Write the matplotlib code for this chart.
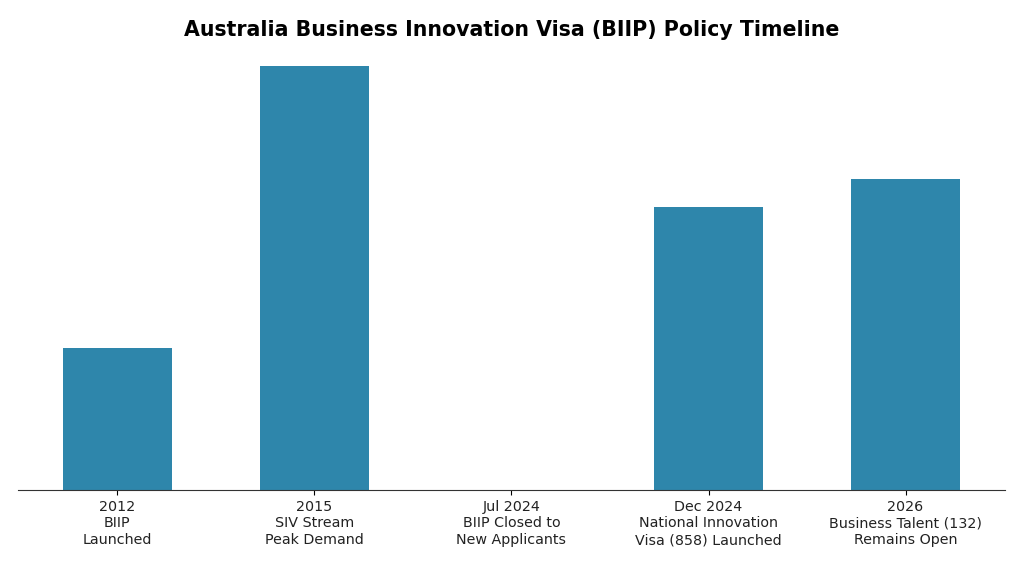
import numpy as np
import matplotlib.pyplot as plt

labels = ["2012\nBIIP\nLaunched",
          "2015\nSIV Stream\nPeak Demand",
          "Jul 2024\nBIIP Closed to\nNew Applicants",
          "Dec 2024\nNational Innovation\nVisa (858) Launched",
          "2026\nBusiness Talent (132)\nRemains Open"]
values = [10, 30, 0, 20, 22]

fig, ax = plt.subplots(figsize=(10.24, 5.69), dpi=100)
x = np.arange(len(labels))
ax.bar(x, values, width=0.55, color="#2E86AB")

ax.set_xticks(x)
ax.set_xticklabels(labels, fontsize=10.3, color="#222222", linespacing=1.25)
ax.set_yticks([])
ax.spines["bottom"].set_color("#333333")
for s in ["left", "top", "right"]:
    ax.spines[s].set_visible(False)

ax.set_title("Australia Business Innovation Visa (BIIP) Policy Timeline",
             fontsize=14.8, fontweight="bold", pad=6)

plt.subplots_adjust(left=0.018, right=0.981, top=0.922, bottom=0.139)
plt.savefig("out.png", dpi=100)
